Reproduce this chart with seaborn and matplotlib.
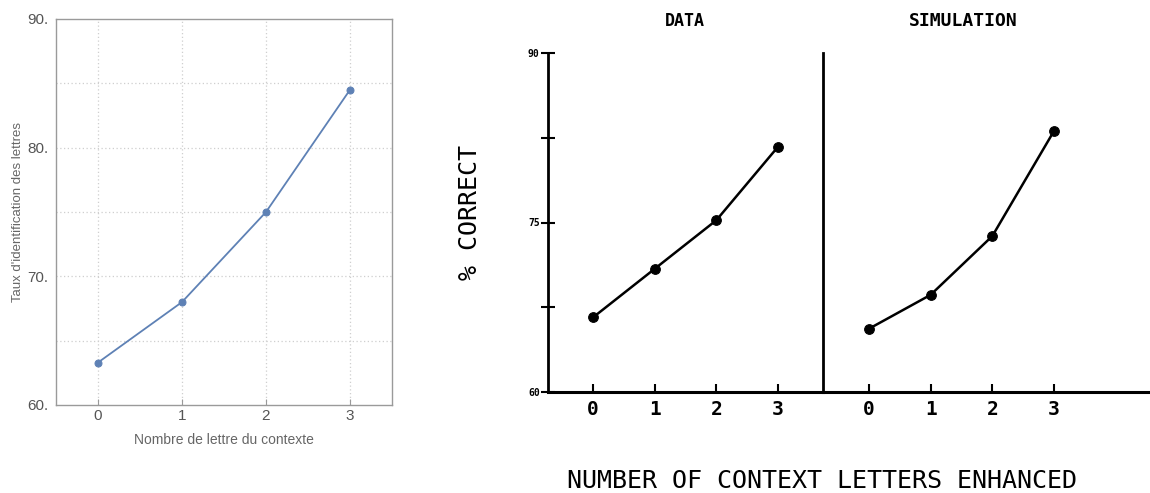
import matplotlib
matplotlib.use("Agg")
import matplotlib.pyplot as plt
import seaborn as sns
import pandas as pd

# context letters enhanced
n_context = [0, 1, 2, 3]

# left panel: reproduced identification rate (%)
taux = [63.3, 68.0, 75.0, 84.5]

# right panel: scanned original figure (% correct)
data_pct = [66.6, 70.9, 75.2, 81.7]
simulation_pct = [65.6, 68.6, 73.8, 83.1]

y_labels_scan = ["60", "75", "90"]

sns.set_style("white")
plt.rcParams['font.family'] = ['Liberation Sans', 'DejaVu Sans']
plt.rcParams['text.color'] = 'black'

W, H = 1150, 493
fig = plt.figure(figsize=(W / 100, H / 100), dpi=100)


def px_axes(left, top, right, bottom):
    '''Axes box given in figure pixels.'''
    return fig.add_axes([left / W, 1 - bottom / H, (right - left) / W, (bottom - top) / H])


# ---------- left: Mathematica-like plot ----------
ax = px_axes(56, 19, 392, 405)
df_left = pd.DataFrame({"n": n_context, "taux": taux})
sns.lineplot(data=df_left, x="n", y="taux", ax=ax, color="#5E81B5", linewidth=1.3,
             marker="o", markersize=5, markeredgecolor="#5E81B5")
ax.set_xlim(-0.5, 3.5)
ax.set_ylim(60, 90)
ax.set_xticks(n_context)
ax.set_yticks([60, 70, 80, 90])
ax.set_yticklabels(["60.", "70.", "80.", "90."])
for x in n_context:
    ax.axvline(x, color="#cfcfcf", linestyle=(0, (1, 2)), linewidth=0.9, zorder=0)
for y in range(65, 90, 5):
    ax.axhline(y, color="#cfcfcf", linestyle=(0, (1, 2)), linewidth=0.9, zorder=0)
for s in ax.spines.values():
    s.set_color("#9a9a9a")
    s.set_linewidth(1.0)
ax.tick_params(axis="x", bottom=True, direction="in", length=4, color="#9a9a9a",
               labelcolor="#555555", labelsize=11, pad=3)
ax.tick_params(axis="y", left=False, labelcolor="#555555", labelsize=11, pad=2)
ax.set_xlabel("Nombre de lettre du contexte", color="#666666", fontsize=10, labelpad=7)
ax.set_ylabel("Taux d'identification des lettres", color="#666666", fontsize=9.5, labelpad=2)

# ---------- right: scanned original ----------
scan_font = ['DejaVu Sans Mono', 'DejaVu Sans']
ax_d = px_axes(548, 53, 823, 392)
ax_s = px_axes(823, 53, 1150, 392)

panels = [(ax_d, data_pct, (-0.73, 3.73)), (ax_s, simulation_pct, (-0.746, 4.557))]
for a, vals, xl in panels:
    d = pd.DataFrame({"n": n_context, "pct": vals})
    sns.lineplot(data=d, x="n", y="pct", ax=a, color="black", linewidth=1.8,
                 marker="o", markersize=7, markeredgecolor="black", clip_on=False)
    a.set_xlim(*xl)
    a.set_ylim(60, 90)
    a.set_xlabel("")
    a.set_ylabel("")
    a.set_facecolor("none")
    a.spines["top"].set_visible(False)
    a.spines["right"].set_visible(False)
    for side in ["bottom", "left"]:
        a.spines[side].set_color("black")
    a.spines["bottom"].set_linewidth(2.2)
    a.spines["left"].set_linewidth(2.0)
    a.set_xticks(n_context)
    a.set_xticklabels([str(v) for v in n_context], fontfamily=scan_font,
                      fontweight="bold", fontsize=14)
    a.tick_params(axis="x", bottom=True, direction="in", length=6, width=1.5, pad=6,
                  color="black", labelcolor="black")

ax_d.set_yticks([60, 75, 90])
ax_d.set_yticklabels(y_labels_scan, fontfamily=scan_font, fontweight="bold", fontsize=7)
ax_d.set_yticks([67.5, 82.5], minor=True)
ax_d.tick_params(axis="y", which="both", left=True, direction="inout", length=10, width=1.5,
                 pad=1, color="black", labelcolor="black")
ax_s.set_yticks([])

fig.text(685 / W, 1 - 21 / H, "DATA", ha="center", va="center", fontfamily=scan_font,
         fontweight="bold", fontsize=12)
fig.text(963 / W, 1 - 21 / H, "SIMULATION", ha="center", va="center", fontfamily=scan_font,
         fontweight="bold", fontsize=13)
fig.text(470 / W, 1 - 213 / H, "% CORRECT", ha="center", va="center", rotation=90,
         fontfamily=scan_font, fontsize=18)
fig.text(822 / W, 1 - 481 / H, "NUMBER OF CONTEXT LETTERS ENHANCED", ha="center", va="center",
         fontfamily=scan_font, fontsize=18)

fig.savefig("out.png", dpi=100)
